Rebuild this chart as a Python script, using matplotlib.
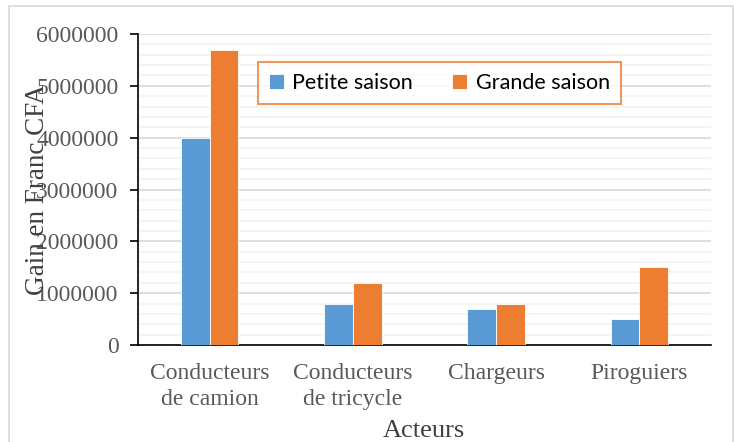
import matplotlib.pyplot as plt
import numpy as np
from matplotlib.patches import Rectangle
from matplotlib.ticker import MultipleLocator, StrMethodFormatter

CATEGORIES = ["Conducteurs\nde camion", "Conducteurs\nde tricycle", "Chargeurs", "Piroguiers"]
PETITE = [4000000, 800000, 700000, 500000]
GRANDE = [5700000, 1200000, 800000, 1500000]

BLUE = "#5B9BD5"
ORANGE = "#ED7D31"
GREY = "#595959"


def main():
    fig = plt.figure(figsize=(7.34, 4.42), dpi=100)
    ax = fig.add_axes([138 / 734, 1 - 345 / 442, 573 / 734, 311 / 442])

    x = np.arange(len(CATEGORIES))
    w = 0.2
    ax.bar(x - w / 2, PETITE, w, color=BLUE, edgecolor="white", linewidth=0.6,
           label="Petite saison", zorder=3)
    ax.bar(x + w / 2, GRANDE, w, color=ORANGE, edgecolor="white", linewidth=0.6,
           label="Grande saison", zorder=3)

    ax.set_xlim(-0.5, 3.5)
    ax.set_ylim(0, 6000000)
    ax.yaxis.set_major_locator(MultipleLocator(1000000))
    ax.yaxis.set_minor_locator(MultipleLocator(200000))
    ax.yaxis.set_major_formatter(StrMethodFormatter("{x:.0f}"))
    ax.grid(axis="y", which="major", color="#D9D9D9", linewidth=1.2, zorder=0)
    ax.grid(axis="y", which="minor", color="#F2F2F2", linewidth=1.2, zorder=0)
    ax.set_axisbelow(True)

    for s in ["top", "right"]:
        ax.spines[s].set_visible(False)
    ax.spines["left"].set_color("black")
    ax.spines["bottom"].set_color("black")
    ax.spines["left"].set_linewidth(1.2)
    ax.spines["bottom"].set_linewidth(1.2)

    ax.set_xticks(x)
    ax.set_xticklabels(CATEGORIES, fontfamily="Liberation Serif", fontsize=17,
                       color=GREY, linespacing=1.3)
    ax.tick_params(axis="x", length=0, pad=13)
    ax.tick_params(axis="y", which="major", length=6, width=1.2, color="black",
                   pad=8, labelsize=17, labelcolor=GREY)
    ax.tick_params(axis="y", which="minor", length=0)
    for lab in ax.get_yticklabels():
        lab.set_fontfamily("Liberation Serif")

    leg = ax.legend(loc="upper left", bbox_to_anchor=((258 - 138) / 573, (345 - 62) / 311),
                    ncol=2, frameon=True, fancybox=False, edgecolor=ORANGE,
                    prop={"family": "Lato", "size": 15.5}, handlelength=0.7,
                    handleheight=0.7, handletextpad=0.4, columnspacing=1.8,
                    borderpad=0.5, borderaxespad=0)
    leg.get_frame().set_linewidth(1.5)

    fig.text(38 / 734, 1 - 190 / 442, "Gain en Franc CFA", rotation=90,
             ha="center", va="center", fontfamily="Liberation Serif",
             fontsize=19.5, color="#404040")
    fig.text(424 / 734, 1 - 431 / 442, "Acteurs", ha="center", va="center",
             fontfamily="Liberation Serif", fontsize=19, color="#404040")

    fig.patches.append(Rectangle((9 / 734, -0.1), 724 / 734, 1.1 - 6 / 442,
                                 transform=fig.transFigure, fill=False,
                                 edgecolor="#D9D9D9", linewidth=1.2))

    fig.savefig("out.png", dpi=100)


if __name__ == '__main__':
    main()
